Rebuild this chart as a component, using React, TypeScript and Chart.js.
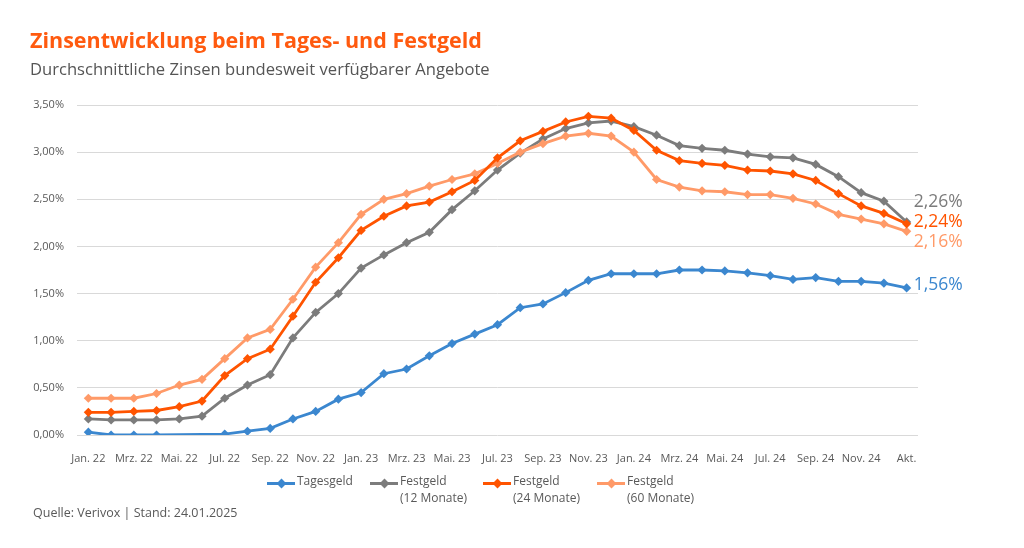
import React, { useEffect, useRef } from "react";
import { Chart, registerables } from "chart.js";

Chart.register(...registerables);

const months = ["Jan.", "Feb.", "Mrz.", "Apr.", "Mai.", "Jun.", "Jul.", "Aug.", "Sep.", "Okt.", "Nov.", "Dez."];
const years = ["22", "23", "24"];
const categories: string[] = [];
years.forEach((y) => months.forEach((m) => categories.push(`${m} ${y}`)));
categories.push("Akt.");

const tagesgeld = [0.03, 0.0, 0.0, 0.0, null, null, 0.01, 0.04, 0.07, 0.17, 0.25, 0.38, 0.45, 0.65, 0.7, 0.84, 0.97, 1.07, 1.17, 1.35, 1.39, 1.51, 1.64, 1.71, 1.71, 1.71, 1.75, 1.75, 1.74, 1.72, 1.69, 1.65, 1.67, 1.63, 1.63, 1.61, 1.56];
const festgeld12 = [0.17, 0.16, 0.16, 0.16, 0.17, 0.2, 0.39, 0.53, 0.64, 1.03, 1.3, 1.5, 1.77, 1.91, 2.04, 2.15, 2.39, 2.59, 2.81, 2.99, 3.14, 3.25, 3.31, 3.33, 3.27, 3.18, 3.07, 3.04, 3.02, 2.98, 2.95, 2.94, 2.87, 2.74, 2.57, 2.48, 2.26];
const festgeld24 = [0.24, 0.24, 0.25, 0.26, 0.3, 0.36, 0.63, 0.81, 0.91, 1.26, 1.62, 1.88, 2.17, 2.32, 2.43, 2.47, 2.58, 2.7, 2.94, 3.12, 3.22, 3.32, 3.38, 3.36, 3.23, 3.02, 2.91, 2.88, 2.86, 2.81, 2.8, 2.77, 2.7, 2.56, 2.43, 2.35, 2.24];
const festgeld60 = [0.39, 0.39, 0.39, 0.44, 0.53, 0.59, 0.81, 1.03, 1.12, 1.44, 1.78, 2.04, 2.34, 2.5, 2.56, 2.64, 2.71, 2.77, 2.88, 3.0, 3.09, 3.17, 3.2, 3.17, 3.0, 2.71, 2.63, 2.59, 2.58, 2.55, 2.55, 2.51, 2.45, 2.34, 2.29, 2.24, 2.16];

const seriesNames = ["Tagesgeld", "Festgeld (12 Monate)", "Festgeld (24 Monate)", "Festgeld (60 Monate)"];
const legendLines = [["Tagesgeld"], ["Festgeld", "(12 Monate)"], ["Festgeld", "(24 Monate)"], ["Festgeld", "(60 Monate)"]];
const colors = ["#3b87cf", "#7c7c7c", "#ff5400", "#ff9a68"];
const endLabelOffsets = [-3, -20, -2, 11];

const FONT = "'Open Sans', 'Noto Sans', sans-serif";
const fmt = (v: number) => v.toFixed(2).replace(".", ",") + "%";

const endLabels = {
  id: "endLabels",
  afterDatasetsDraw(chart: any) {
    const ctx = chart.ctx;
    ctx.save();
    ctx.font = `17.5px ${FONT}`;
    ctx.textBaseline = "middle";
    ctx.textAlign = "left";
    chart.data.datasets.forEach((ds: any, i: number) => {
      const meta = chart.getDatasetMeta(i);
      const last = ds.data.length - 1;
      const pt = meta.data[last];
      if (!pt) return;
      ctx.fillStyle = colors[i];
      ctx.fillText(fmt(ds.data[last]), pt.x + 7, pt.y + endLabelOffsets[i]);
    });
    ctx.restore();
  },
};

export default function App() {
  const ref = useRef<HTMLCanvasElement | null>(null);

  useEffect(() => {
    if (!ref.current) return;
    const all = [tagesgeld, festgeld12, festgeld24, festgeld60];
    const chart = new Chart(ref.current, {
      type: "line",
      data: {
        labels: categories,
        datasets: all.map((d, i) => ({
          label: seriesNames[i],
          data: d,
          borderColor: colors[i],
          backgroundColor: colors[i],
          borderWidth: 2.8,
          pointStyle: "rectRot",
          pointRadius: 4.6,
          pointBorderWidth: 0,
          pointBackgroundColor: colors[i],
          spanGaps: true,
          tension: 0,
          order: i === 2 ? 0 : 4 - i,
        })),
      },
      options: {
        animation: false,
        responsive: false,
        events: [],
        layout: { padding: { left: 0, right: 106, top: 105, bottom: 0 } },
        plugins: { legend: { display: false }, tooltip: { enabled: false } },
        scales: {
          x: {
            offset: true,
            grid: { display: false },
            border: { display: false },
            ticks: {
              autoSkip: false,
              maxRotation: 0,
              padding: 9,
              color: "#595959",
              font: { family: FONT, size: 11 },
              callback: (_v: any, i: number) => (i % 2 === 0 ? categories[i] : ""),
            },
            afterFit: (s: any) => {
              s.height = 113;
            },
          },
          y: {
            min: 0,
            max: 3.5,
            grid: { color: "#d9d9d9", lineWidth: 1, drawTicks: false },
            border: { display: false },
            ticks: {
              stepSize: 0.5,
              padding: 13,
              color: "#595959",
              font: { family: FONT, size: 11 },
              callback: (v: any) => fmt(Number(v)),
            },
            afterFit: (s: any) => {
              s.width = 77;
            },
          },
        },
      },
      plugins: [endLabels],
    } as any);
    return () => chart.destroy();
  }, []);

  return (
    <div style={{ position: "absolute", left: 0, top: 0, width: 1024, height: 548, background: "#fff", fontFamily: FONT, overflow: "hidden" }}>
      <canvas ref={ref} width={1024} height={548} style={{ position: "absolute", left: 0, top: 0, width: 1024, height: 548 }} />
      <div style={{ position: "absolute", left: 30, top: 29.2, fontSize: 21.5, lineHeight: "21.5px", fontWeight: 700, color: "#ff5a0f", whiteSpace: "nowrap" }}>
        Zinsentwicklung beim Tages- und Festgeld
      </div>
      <div style={{ position: "absolute", left: 30, top: 61.3, fontSize: 16.6, lineHeight: "16.6px", color: "#555555", whiteSpace: "nowrap" }}>
        Durchschnittliche Zinsen bundesweit verfügbarer Angebote
      </div>
      {[267, 370, 483, 597].map((x, i) => (
        <div key={i} style={{ position: "absolute", left: x, top: 473 }}>
          <div style={{ position: "absolute", left: 0, top: 8.5, width: 28, height: 3, background: colors[i] }} />
          <div style={{ position: "absolute", left: 10.5, top: 6.5, width: 7, height: 7, background: colors[i], transform: "rotate(45deg)" }} />
          <div style={{ position: "absolute", left: 30, top: 0, fontSize: 12, lineHeight: "16.5px", color: "#595959", whiteSpace: "nowrap" }}>
            {legendLines[i].map((t, j) => (
              <div key={j}>{t}</div>
            ))}
          </div>
        </div>
      ))}
      <div style={{ position: "absolute", left: 33, top: 506.5, fontSize: 12.5, lineHeight: "12.5px", color: "#595959", whiteSpace: "nowrap" }}>
        Quelle: Verivox | Stand: 24.01.2025
      </div>
    </div>
  );
}
